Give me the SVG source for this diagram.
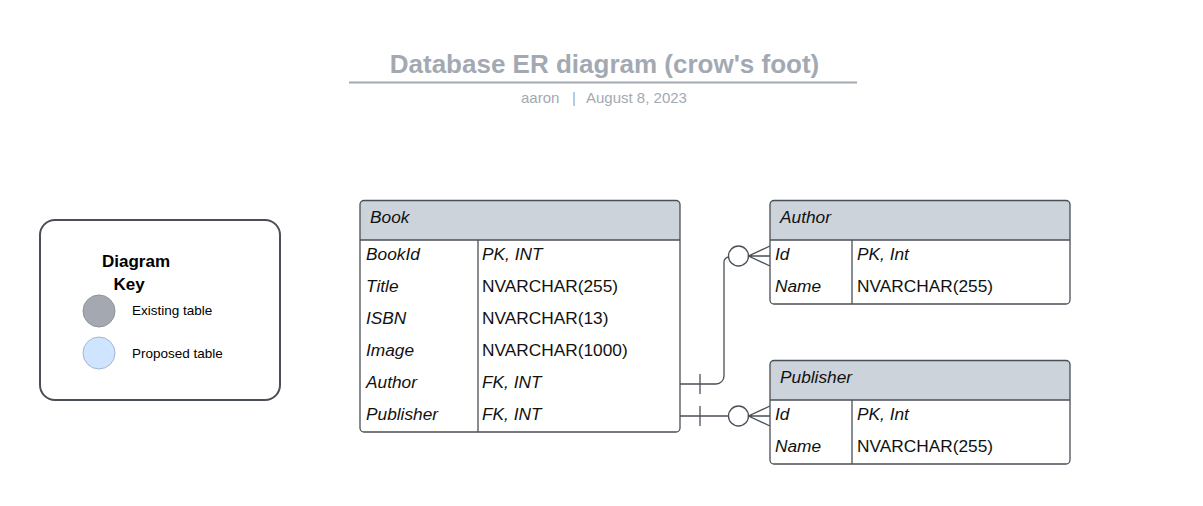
<svg xmlns="http://www.w3.org/2000/svg" width="1203" height="506" viewBox="0 0 1203 506">
<style>
text{font-family:"Liberation Sans",Arial,sans-serif;}
.title{font-size:26px;font-weight:bold;fill:#a3a9b3;}
.sub{font-size:15px;fill:#a3a9b3;}
.box{fill:none;stroke:#4a4f57;stroke-width:1.3;}
.hdr{fill:#cdd3da;}
.ln{stroke:#4a4f57;stroke-width:1.3;fill:none;}
.t{font-size:17.3px;fill:#111;}
.i{font-style:italic;}
.key{fill:#fff;stroke:#4a4f57;stroke-width:2;}
.kt{font-size:13.5px;fill:#000;}
.kh{font-size:17px;font-weight:bold;fill:#000;}
.conn{stroke:#4a4f57;stroke-width:1.3;fill:none;}
</style>
<rect width="1203" height="506" fill="#fff"/>
<g id="title">
<text class="title" x="604.5" y="73" text-anchor="middle">Database ER diagram (crow's foot)</text>
<line x1="349" y1="82.5" x2="857" y2="82.5" stroke="#a3a9b3" stroke-width="2"/>
<text class="sub" x="521" y="103">aaron</text>
<text class="sub" x="572" y="103">|</text>
<text class="sub" x="586" y="103">August 8, 2023</text>
</g>
<g id="key">
<rect class="key" x="40" y="220" width="240" height="180" rx="15"/>
<text class="kh" x="136" y="267" text-anchor="middle">Diagram</text>
<text class="kh" x="129" y="290" text-anchor="middle">Key</text>
<circle cx="99" cy="311" r="16" fill="#a4a9b1" stroke="#8e939b" stroke-width="1"/>
<text class="kt" x="132" y="315">Existing table</text>
<circle cx="99" cy="353" r="16" fill="#cfe4fe" stroke="#a3b6d2" stroke-width="1"/>
<text class="kt" x="132" y="358">Proposed table</text>
</g>
<g id="book">
<path class="hdr" d="M364,200.5 H676 a4,4 0 0 1 4,4 V240 H360 V204.5 a4,4 0 0 1 4,-4z"/>
<rect class="box" x="360" y="200.5" width="320" height="231.5" rx="4"/>
<line class="ln" x1="360" y1="240" x2="680" y2="240"/>
<line class="ln" x1="478" y1="240" x2="478" y2="432"/>
<text class="t i" x="370" y="223">Book</text>
<text class="t i" x="366" y="260">BookId</text><text class="t i" x="482" y="260">PK, INT</text>
<text class="t i" x="366" y="292">Title</text><text class="t" x="482" y="292">NVARCHAR(255)</text>
<text class="t i" x="366" y="324">ISBN</text><text class="t" x="482" y="324">NVARCHAR(13)</text>
<text class="t i" x="366" y="356">Image</text><text class="t" x="482" y="356">NVARCHAR(1000)</text>
<text class="t i" x="366" y="388">Author</text><text class="t i" x="482" y="388">FK, INT</text>
<text class="t i" x="366" y="420">Publisher</text><text class="t i" x="482" y="420">FK, INT</text>
</g>
<g id="author">
<path class="hdr" d="M774,200.5 H1066 a4,4 0 0 1 4,4 V240 H770 V204.5 a4,4 0 0 1 4,-4z"/>
<rect class="box" x="770" y="200.5" width="300" height="103.5" rx="4"/>
<line class="ln" x1="770" y1="240" x2="1070" y2="240"/>
<line class="ln" x1="852" y1="240" x2="852" y2="304"/>
<text class="t i" x="780" y="223">Author</text>
<text class="t i" x="775" y="260">Id</text><text class="t i" x="857" y="260">PK, Int</text>
<text class="t i" x="775" y="292">Name</text><text class="t" x="857" y="292">NVARCHAR(255)</text>
</g>
<g id="publisher">
<path class="hdr" d="M774,360.5 H1066 a4,4 0 0 1 4,4 V400 H770 V364.5 a4,4 0 0 1 4,-4z"/>
<rect class="box" x="770" y="360.5" width="300" height="103.5" rx="4"/>
<line class="ln" x1="770" y1="400" x2="1070" y2="400"/>
<line class="ln" x1="852" y1="400" x2="852" y2="464"/>
<text class="t i" x="780" y="383">Publisher</text>
<text class="t i" x="775" y="420">Id</text><text class="t i" x="857" y="420">PK, Int</text>
<text class="t i" x="775" y="452">Name</text><text class="t" x="857" y="452">NVARCHAR(255)</text>
</g>
<g id="connectors">
<path class="conn" d="M680,384 H716 a8,8 0 0 0 8,-8 V262 a5,5 0 0 1 5,-5"/>
<line class="conn" x1="700" y1="374" x2="700" y2="394"/>
<circle class="conn" cx="738.5" cy="256" r="10"/>
<path class="conn" d="M770,246 L748.5,256 L770,266 M748.5,256 H770"/>
<path class="conn" d="M680,416 H728.5"/>
<line class="conn" x1="700" y1="406" x2="700" y2="426"/>
<circle class="conn" cx="738.5" cy="416" r="10"/>
<path class="conn" d="M770,406 L748.5,416 L770,426 M748.5,416 H770"/>
</g>
</svg>
